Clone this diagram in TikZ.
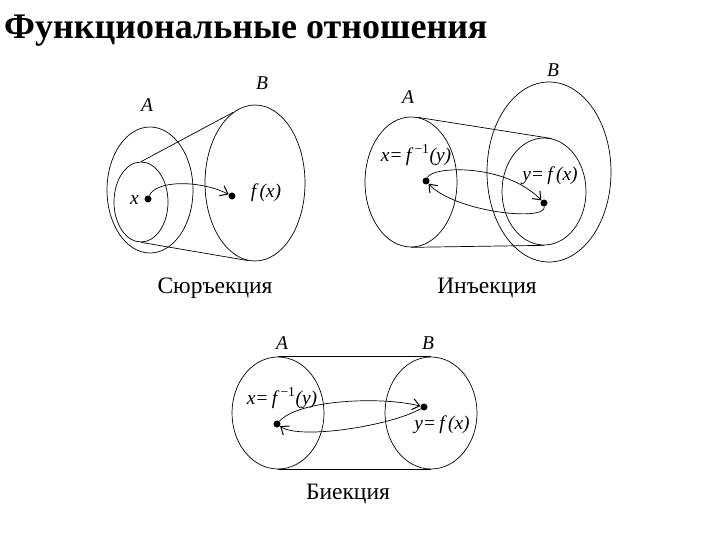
\documentclass[tikz,border=0pt]{standalone}
\usepackage{fontspec}
\setmainfont{Liberation Serif}
\usetikzlibrary{shapes.geometric,arrows.meta}
\begin{document}
\begin{tikzpicture}[x=1pt,y=-1pt,
 ell/.style={draw,ellipse,inner sep=0pt,line width=0.7pt},
 dot/.style={circle,fill,inner sep=0pt,minimum size=7pt},
 lab/.style={font=\fontsize{19.5}{19.5}\selectfont\itshape,inner sep=0pt},
 captxt/.style={font=\fontsize{23.5}{23.5}\selectfont,inner sep=0pt},
 arr/.style={line width=0.7pt,-{Straight Barb[length=7pt,width=11pt,line width=1pt]}},
 ln/.style={line width=0.7pt}]
\useasboundingbox (0,0) rectangle (720,540);
\node[anchor=base west,font=\fontsize{36}{36}\selectfont\bfseries,inner sep=0pt] (title) at (4,39) {Функциональные отношения};
% Surjection
\node[ell,minimum width=86pt,minimum height=126pt] (A1) at (150,190) {};
\node[ell,minimum width=54pt,minimum height=80pt] (A1i) at (141,202) {};
\node[ell,minimum width=100pt,minimum height=156pt] (B1) at (255,183) {};
\draw[ln] (A1i.north) -- (B1.107);
\draw[ln] (A1i.south) -- (B1.265);
\node[dot] (x1) at (148,199) {};
\node[dot] (fx1) at (232,196) {};
\node[lab,anchor=east] (lx1) at (139,200) {x};
\node[lab] (lfx1) at (266,193) {f\,(x)};
\node[lab] (lA1) at (147,105) {A};
\node[lab] (lB1) at (262,83) {B};
\draw[arr] (x1) .. controls (156,180) and (200,180) .. (fx1);
\node[captxt] (c1) at (215,288) {Сюръекция};
% Injection
\node[ell,minimum width=92pt,minimum height=130pt] (A2) at (411,182) {};
\node[ell,minimum width=124pt,minimum height=180pt] (B2) at (549,172) {};
\node[ell,minimum width=84pt,minimum height=107pt] (B2i) at (544,191.5) {};
\draw[ln] (A2.84) -- (B2i.82);
\draw[ln] (A2.south) -- (B2i.south);
\node[dot] (x2) at (426,181) {};
\node[dot] (y2) at (544,203) {};
\node[lab] (lx2) at (416,155) {x=\,f\,\textsuperscript{\upshape −1}(y)};
\node[lab] (ly2) at (550,176) {y=\,f\,(x)};
\node[lab] (lA2) at (408,97) {A};
\node[lab] (lB2) at (553,70) {B};
\draw[arr] (x2) .. controls (432,166) and (505,163) .. (y2);
\draw[arr] (y2) .. controls (546,222) and (455,212) .. (x2);
\node[captxt] (c2) at (487,288) {Инъекция};
% Bijection
\node[ell,minimum width=92pt,minimum height=112pt] (A3) at (278,413) {};
\node[ell,minimum width=92pt,minimum height=112pt] (B3) at (431,413) {};
\draw[ln] (A3.north) -- (B3.north);
\draw[ln] (A3.south) -- (B3.south);
\node[dot] (x3) at (277,424) {};
\node[dot] (y3) at (424,407) {};
\node[lab] (lx3) at (282,398) {x=\,f\,\textsuperscript{\upshape −1}(y)};
\node[lab] (ly3) at (442,425) {y=\,f\,(x)};
\node[lab] (lA3) at (282,343) {A};
\node[lab] (lB3) at (428,343) {B};
\draw[arr] (x3) .. controls (298,400) and (380,396) .. (y3);
\draw[arr] (y3) .. controls (390,426) and (300,440) .. (x3);
\node[captxt] (c3) at (348,494) {Биекция};
\end{tikzpicture}
\end{document}
